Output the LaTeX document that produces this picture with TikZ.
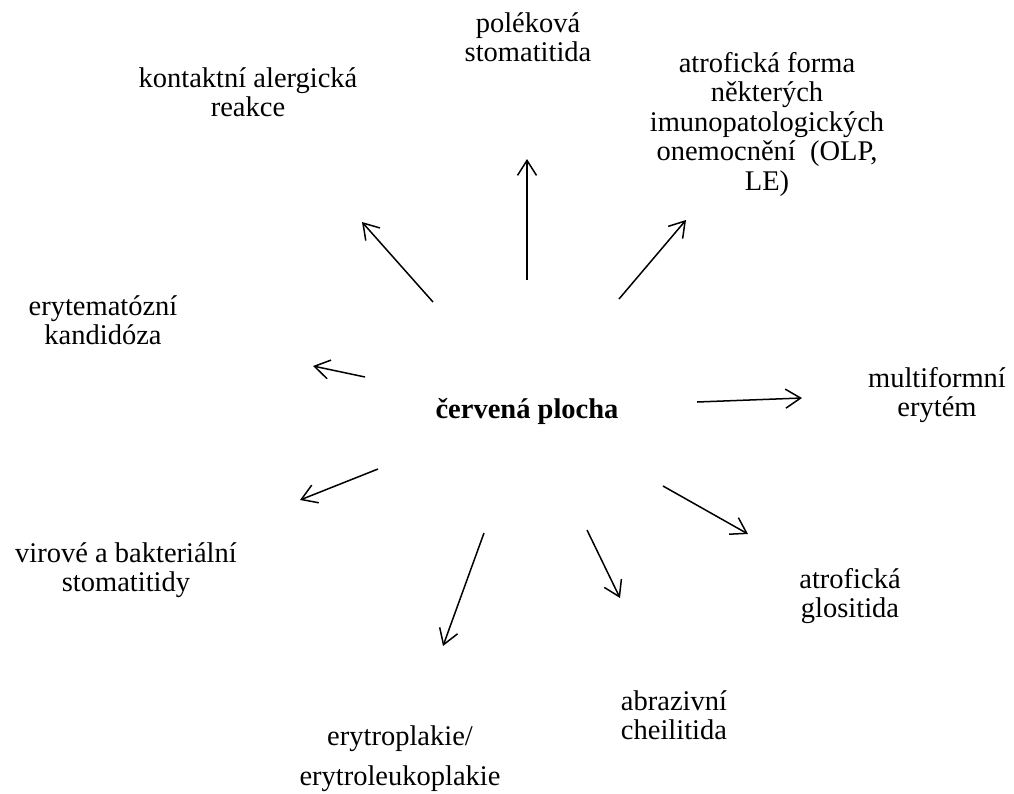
\documentclass[tikz,border=0pt]{standalone}
\usepackage{fontspec}
\setmainfont{Liberation Serif}
\usetikzlibrary{arrows.meta}
\newcommand\mlines[1]{\vtop{\halign{\hfil##\hfil\cr#1\crcr}}}
\tikzset{
  lbl/.style={inner sep=0pt, anchor=base, font=\fontsize{28.5}{29.5}\selectfont},
  lblwide/.style={inner sep=0pt, anchor=base, font=\fontsize{28.5}{40}\selectfont},
  ctr/.style={inner sep=0pt, anchor=base, font=\fontsize{28.5}{29.5}\selectfont\bfseries},
  conn/.style={line width=1.5pt, -{Straight Barb[length=15pt,width=19pt,line width=1.5pt]}}
}
\begin{document}
\begin{tikzpicture}[x=1pt,y=-1pt]
\useasboundingbox (0,0) rectangle (1014,793);
% labels
\node[ctr] (c) at (527,418) {červená plocha};
\node[lbl] (pol) at (528,32) {\mlines{poléková\cr stomatitida}};
\node[lbl] (kon) at (248,87) {\mlines{kontaktní alergická\cr reakce}};
\node[lbl] (atf) at (767,72) {\mlines{atrofická forma\cr některých\cr imunopatologických\cr onemocnění\ \ (OLP,\cr LE)}};
\node[lbl] (ery) at (103,315) {\mlines{erytematózní\cr kandidóza}};
\node[lbl] (mul) at (937,387) {\mlines{multiformní\cr erytém}};
\node[lbl] (vir) at (126,562) {\mlines{virové a bakteriální\cr stomatitidy}};
\node[lbl] (glo) at (850,588) {\mlines{atrofická\cr glositida}};
\node[lbl] (abr) at (674,710) {\mlines{abrazivní\cr cheilitida}};
\node[lblwide] (etp) at (400,745) {\mlines{erytroplakie/\cr erytroleukoplakie}};
% arrow endpoints
\coordinate (s1) at (527,280); \coordinate (e1) at (527,159);
\coordinate (s2) at (433,302); \coordinate (e2) at (362,222);
\coordinate (s3) at (619,299); \coordinate (e3) at (686,220);
\coordinate (s4) at (365,377); \coordinate (e4) at (313,366);
\coordinate (s5) at (697,402); \coordinate (e5) at (802,398);
\coordinate (s6) at (663,486); \coordinate (e6) at (748,534);
\coordinate (s7) at (587,530); \coordinate (e7) at (620,598);
\coordinate (s8) at (484,533); \coordinate (e8) at (443,646);
\coordinate (s9) at (378,469); \coordinate (e9) at (300,500);
\foreach \i in {1,...,9} { \draw[conn] (s\i) -- (e\i); }
\end{tikzpicture}
\end{document}
